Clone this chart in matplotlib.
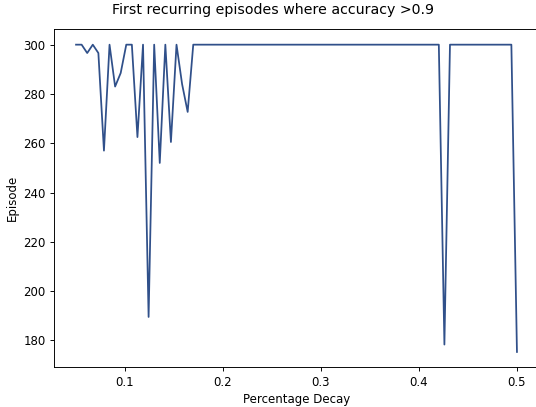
import numpy as np
import matplotlib
matplotlib.use("Agg")
import matplotlib.pyplot as plt

decay = np.linspace(0.05, 0.5, 80)
episodes = [300, 300, 296.6, 300, 296.6, 257, 300, 283, 288.5, 300,
            300, 262.5, 300, 189.5, 300, 252, 300, 260.5, 300, 284,
            272.7] + [300] * 45 + [178.3] + [300] * 12 + [175.3]

W, H = 536, 407
DPI = 84.7
fig = plt.figure(figsize=(W / DPI, H / DPI), dpi=DPI)
ax = fig.add_axes([54 / W, 1 - 367.3 / H, (539 - 54) / W, (367.3 - 29.3) / H])
ax.plot(decay, episodes, color="#30508a", linewidth=1.5)
ax.set_xlabel("Percentage Decay")
ax.set_ylabel("Episode")
fig.suptitle("First recurring episodes where accuracy >0.9", x=272.8 / W,
             y=1 - 3 / H, va="top", fontsize=12)
fig.savefig("out.png", dpi=DPI)
